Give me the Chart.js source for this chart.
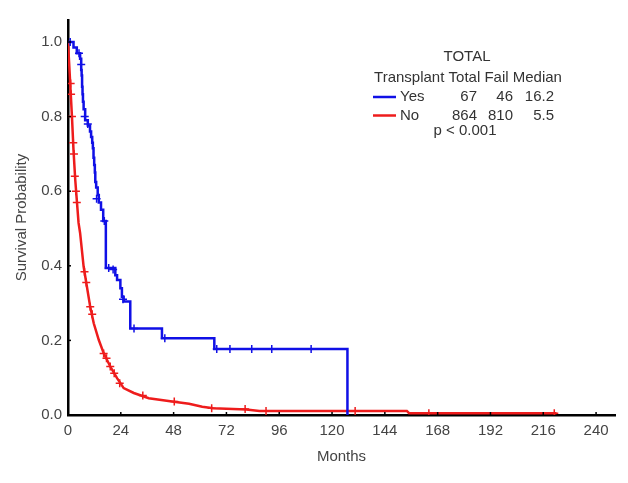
<!DOCTYPE html>
<html>
<head>
<meta charset="utf-8">
<script src="https://cdn.jsdelivr.net/npm/chart.js@4/dist/chart.umd.min.js"></script>
<style>
  html, body { margin: 0; padding: 0; background: #fff; }
  #wrap { width: 628px; height: 483px; }
</style>
</head>
<body>
<div id="wrap"><canvas id="kmChart" width="628" height="483"></canvas></div>
<script>
// Kaplan-Meier data (months, survival)
const yesTimes = [0, 2.5, 4, 5.5, 6, 6.2, 6.4, 6.6, 6.8, 7.1, 7.8, 9, 10, 10.5, 11, 11.3, 11.6, 11.9, 12.2, 12.4, 12.8, 13.5, 14, 15, 16, 17.2, 21.5, 22.3, 23.8, 24.5, 25.3, 28.3, 42.7, 66.5, 127];
const yesSurv  = [1.0, 0.985, 0.97, 0.955, 0.925, 0.91, 0.88, 0.86, 0.84, 0.82, 0.79, 0.776, 0.76, 0.745, 0.73, 0.715, 0.69, 0.67, 0.65, 0.625, 0.61, 0.59, 0.57, 0.55, 0.52, 0.394, 0.375, 0.362, 0.34, 0.317, 0.304, 0.232, 0.206, 0.177, 0.0];

const noTimes = [0, 0.5, 1, 1.8, 2.5, 3.3, 4, 4.8, 5.5, 7.1, 8.6, 10.1, 11.7, 14, 16.2, 19.2, 22.3, 25.3, 29.9, 36.7, 47.3, 55, 61, 66, 81, 87, 154, 155, 222];
const noSurv  = [1.0, 0.945, 0.889, 0.80, 0.71, 0.63, 0.576, 0.515, 0.488, 0.398, 0.344, 0.29, 0.246, 0.201, 0.166, 0.13, 0.099, 0.072, 0.059, 0.045, 0.036, 0.03, 0.022, 0.018, 0.015, 0.011, 0.011, 0.005, 0.005];

// censored observations (tick marks)
const yesCensorTimes = [1.0, 5.0, 6.0, 7.6, 9.0, 13.0, 16.5, 18.5, 20.5, 25.0, 30, 44, 67.6, 73.6, 83.5, 92.6, 110.5];
const yesCensorSurv  = [1.0, 0.97, 0.94, 0.80, 0.78, 0.58, 0.52, 0.394, 0.39, 0.31, 0.232, 0.206, 0.177, 0.177, 0.177, 0.177, 0.177];

const noCensorTimes = [1.2, 1.4, 1.8, 2.4, 2.7, 3.1, 3.6, 4.0, 7.5, 8.3, 10.1, 11.0, 16.2, 17.5, 19.2, 21, 23.5, 34, 48.3, 65.3, 80.5, 90, 130.5, 164, 221];
const noCensorSurv  = [0.889, 0.86, 0.80, 0.73, 0.70, 0.64, 0.60, 0.57, 0.384, 0.355, 0.29, 0.27, 0.165, 0.152, 0.13, 0.112, 0.085, 0.052, 0.036, 0.018, 0.016, 0.011, 0.011, 0.005, 0.005];

// legend table
const groupLabels = ['Yes', 'No'];
const groupTotal  = [67, 864];
const groupFail   = [46, 810];
const groupMedian = ['16.2', '5.5'];
const pValueText  = 'p < 0.001';

// axes
const xTickStep = 24;
const xMax = 248.6;
const yTickStep = 0.2;
const yMax = 1.059;

const BLUE = '#1010e6';
const RED = '#ee1c1c';
const FONT = 'Liberation Sans, Arial, sans-serif';

const toPoints = (xs, ys) => xs.map((x, i) => ({ x: x, y: ys[i] }));

// draws the little inward tick marks on both axes
const innerTicks = {
    id: 'innerTicks',
    afterDraw(chart) {
        const { ctx, scales: { x, y } } = chart;
        ctx.save();
        ctx.strokeStyle = '#000';
        ctx.lineWidth = 1.5;
        x.ticks.forEach(t => {
            const px = x.getPixelForValue(t.value);
            ctx.beginPath();
            ctx.moveTo(px, y.bottom);
            ctx.lineTo(px, y.bottom - 3);
            ctx.stroke();
        });
        y.ticks.forEach(t => {
            const py = y.getPixelForValue(t.value);
            ctx.beginPath();
            ctx.moveTo(x.left, py);
            ctx.lineTo(x.left + 3, py);
            ctx.stroke();
        });
        ctx.restore();
    }
};

// TOTAL table in the top right
const tableLegend = {
    id: 'tableLegend',
    afterDraw(chart) {
        const ctx = chart.ctx;
        const colors = [BLUE, RED];
        ctx.save();
        ctx.font = '15px ' + FONT;
        ctx.fillStyle = '#333';
        ctx.textBaseline = 'middle';

        ctx.textAlign = 'center';
        ctx.fillText('TOTAL', 467, 57);
        ctx.fillText('Transplant Total Fail Median', 468, 78);

        groupLabels.forEach((g, i) => {
            const rowY = 97 + i * 18.5;
            ctx.strokeStyle = colors[i];
            ctx.lineWidth = 2.5;
            ctx.beginPath();
            ctx.moveTo(373, rowY);
            ctx.lineTo(396, rowY);
            ctx.stroke();

            ctx.textAlign = 'left';
            ctx.fillText(g, 400, rowY);
            ctx.textAlign = 'right';
            ctx.fillText(String(groupTotal[i]), 477, rowY);
            ctx.fillText(String(groupFail[i]), 513, rowY);
            ctx.fillText(groupMedian[i], 554, rowY);
        });

        ctx.textAlign = 'center';
        ctx.fillText(pValueText, 465, 131);
        ctx.restore();
    }
};

const ctx = document.getElementById('kmChart').getContext('2d');

new Chart(ctx, {
    type: 'scatter',
    data: {
        datasets: [
            {
                label: 'Yes',
                data: toPoints(yesTimes, yesSurv),
                showLine: true,
                stepped: 'before',
                borderColor: BLUE,
                borderWidth: 2.5,
                pointRadius: 0
            },
            {
                label: 'Yes censored',
                data: toPoints(yesCensorTimes, yesCensorSurv),
                showLine: false,
                pointStyle: 'cross',
                pointRadius: 4,
                borderColor: BLUE,
                borderWidth: 1.5
            },
            {
                label: 'No',
                data: toPoints(noTimes, noSurv),
                showLine: true,
                borderColor: RED,
                borderWidth: 2.5,
                pointRadius: 0
            },
            {
                label: 'No censored',
                data: toPoints(noCensorTimes, noCensorSurv),
                showLine: false,
                pointStyle: 'cross',
                pointRadius: 4,
                borderColor: RED,
                borderWidth: 1.5
            }
        ]
    },
    options: {
        responsive: false,
        animation: false,
        layout: { padding: { top: 20, right: 13, left: 0, bottom: 0 } },
        plugins: {
            legend: { display: false },
            tooltip: { enabled: false }
        },
        scales: {
            x: {
                type: 'linear',
                min: 0,
                max: xMax,
                grid: { display: false, drawTicks: false },
                border: { display: true, color: '#000', width: 2.5 },
                ticks: {
                    stepSize: xTickStep,
                    includeBounds: false,
                    color: '#444',
                    padding: 7,
                    maxRotation: 0,
                    font: { family: FONT, size: 15 }
                },
                title: {
                    display: true,
                    text: 'Months',
                    color: '#444',
                    padding: { top: 0, bottom: 17 },
                    font: { family: FONT, size: 15 }
                },
                afterFit(scale) { scale.height = 68; }
            },
            y: {
                min: 0,
                max: yMax,
                grid: { display: false, drawTicks: false },
                border: { display: true, color: '#000', width: 2.5 },
                ticks: {
                    stepSize: yTickStep,
                    includeBounds: false,
                    color: '#444',
                    padding: 6,
                    font: { family: FONT, size: 15 },
                    callback: v => v.toFixed(1)
                },
                title: {
                    display: true,
                    text: 'Survival Probability',
                    color: '#444',
                    padding: { top: 13, bottom: 0 },
                    font: { family: FONT, size: 15 }
                },
                afterFit(scale) { scale.width = 68; }
            }
        }
    },
    plugins: [innerTicks, tableLegend]
});
</script>
</body>
</html>
